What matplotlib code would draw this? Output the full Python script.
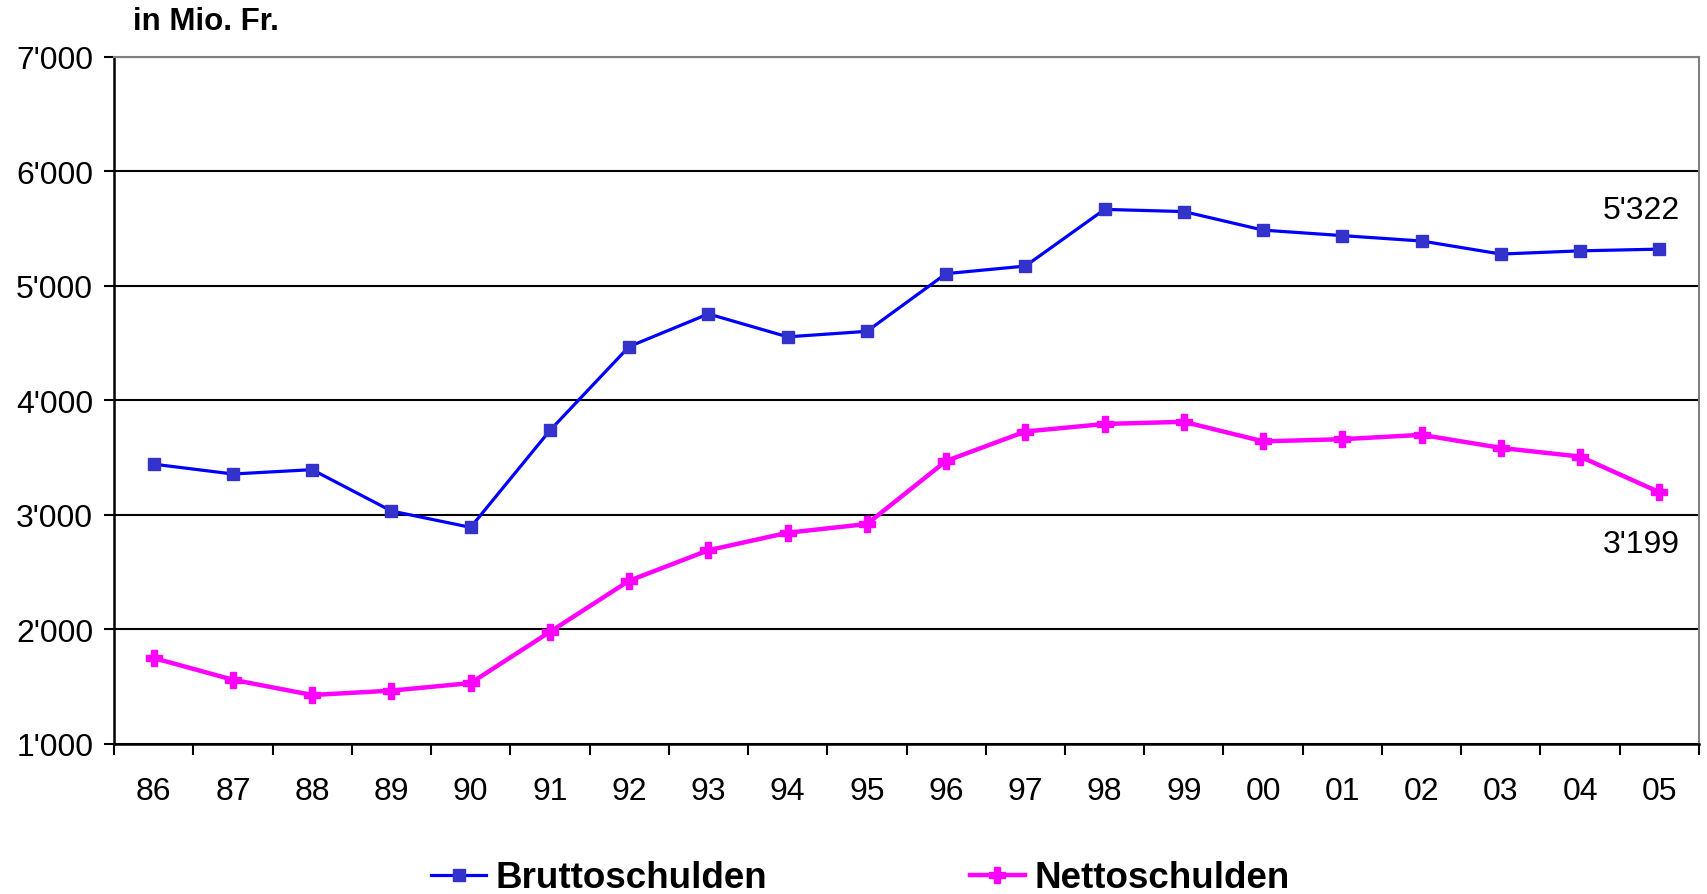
import numpy as np
import matplotlib.pyplot as plt
from matplotlib.ticker import FuncFormatter, FixedLocator

plt.rcParams['font.family'] = ['Liberation Sans', 'DejaVu Sans']

years = ['86', '87', '88', '89', '90', '91', '92', '93', '94', '95',
         '96', '97', '98', '99', '00', '01', '02', '03', '04', '05']
brutto = [3444, 3358, 3396, 3035, 2892, 3738, 4471, 4756, 4556, 4604,
          5108, 5174, 5669, 5650, 5488, 5440, 5393, 5279, 5307, 5322]
netto = [1751, 1561, 1428, 1466, 1532, 1979, 2426, 2692, 2845, 2921,
         3472, 3729, 3795, 3814, 3643, 3662, 3700, 3586, 3510, 3199]

def swiss(v, pos=None):
    return '{:,.0f}'.format(v).replace(',', "'")

x = np.arange(len(years))

fig = plt.figure(figsize=(17.07, 8.95), dpi=100)
ax = fig.add_axes([0.0668, 0.1676, 0.9285, 0.7676])

ax.plot(x, brutto, color='#0000ff', lw=2.3, marker='s', ms=8,
        mfc='#3333cc', mec='#3333cc', label='Bruttoschulden', zorder=3)
ax.plot(x, netto, color='#ff00ff', lw=3.2, marker='P', ms=11,
        mfc='#ff00ff', mec='#ff00ff', label='Nettoschulden', zorder=3)

ax.set_xlim(-0.5, len(years) - 0.5)
ax.set_ylim(1000, 7000)
ax.set_yticks(np.arange(1000, 7001, 1000))
ax.yaxis.set_major_formatter(FuncFormatter(swiss))
ax.set_xticks(x)
ax.set_xticklabels(years)
ax.xaxis.set_minor_locator(FixedLocator(np.arange(-0.5, len(years), 1)))

ax.tick_params(axis='y', length=7, width=1.5, pad=8, labelsize=23, direction='out')
ax.tick_params(axis='x', which='major', length=0, pad=23, labelsize=23)
ax.tick_params(axis='x', which='minor', length=8, width=1.5, direction='out')

ax.grid(axis='y', color='black', lw=1.5, zorder=1)
for s in ['top', 'right']:
    ax.spines[s].set_color('#808080')
    ax.spines[s].set_linewidth(1.5)
for s in ['left', 'bottom']:
    ax.spines[s].set_color('black')
    ax.spines[s].set_linewidth(1.8)

# end value labels
ax.annotate(swiss(brutto[-1]), (x[-1], brutto[-1]), xytext=(15, 28),
            textcoords='offset points', ha='right', va='center', fontsize=23)
ax.annotate(swiss(netto[-1]), (x[-1], netto[-1]), xytext=(15, -37),
            textcoords='offset points', ha='right', va='center', fontsize=23)

fig.text(0.078, 0.975, 'in Mio. Fr.', fontsize=22.5, fontweight='bold',
         va='center', ha='left')

fig.legend(loc='center', bbox_to_anchor=(0.504, 0.018), ncol=2, frameon=False,
           prop={'size': 26.5, 'weight': 'bold'}, handlelength=1.5,
           handletextpad=0.25, columnspacing=5.5, borderpad=0)

fig.savefig('out.png', dpi=100)
